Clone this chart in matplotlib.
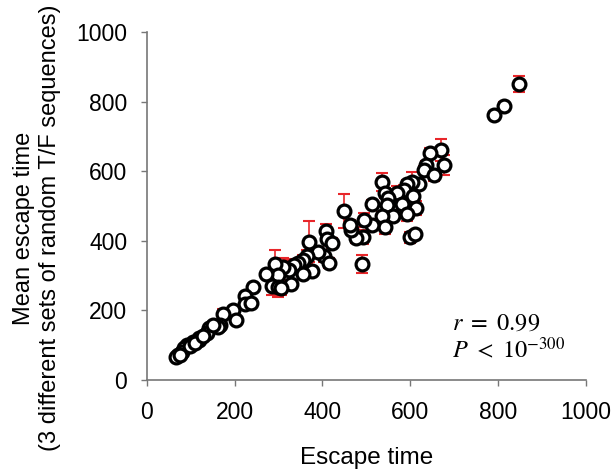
import numpy as np
import matplotlib.pyplot as plt

plt.rcParams['font.family'] = ['Liberation Sans', 'DejaVu Sans']
plt.rcParams['mathtext.fontset'] = 'stix'

# escape time, mean escape time, error (sd over the 3 sets)
esc = [848, 813, 792, 670, 646, 676, 636, 631, 655, 620, 604, 592, 585, 606, 570,
       581, 613, 592, 537, 543, 550, 547, 560, 535, 542, 514, 514, 494, 492, 477,
       465, 462, 449, 490, 408, 410, 422, 404, 415, 370, 390, 364, 355, 345, 336,
       377, 355, 329, 324, 311, 292, 300, 272, 285, 298, 305, 241, 224, 224, 237,
       197, 203, 173, 167, 162, 142, 137, 120, 118, 106, 91, 85, 80, 71, 67,
       76, 99, 110, 129, 150, 600, 612]
mean_esc = [850, 788, 761, 662, 652, 618, 618, 604, 588, 563, 568, 563, 546, 529, 537,
            506, 494, 477, 568, 537, 523, 503, 472, 472, 439, 506, 446, 460, 410, 407,
            431, 446, 486, 333, 427, 405, 393, 355, 336, 398, 367, 355, 345, 336, 331,
            312, 305, 276, 316, 326, 333, 302, 304, 270, 268, 264, 267, 242, 219, 222,
            201, 173, 189, 158, 153, 149, 134, 122, 115, 110, 101, 91, 81, 72, 67,
            72, 97, 105, 125, 158, 410, 420]
err = [23, 10, 8, 32, 15, 28, 12, 12, 15, 12, 30, 12, 15, 15, 22,
       15, 20, 20, 26, 15, 12, 12, 15, 12, 18, 10, 12, 20, 20, 12,
       12, 15, 50, 25, 20, 12, 15, 15, 15, 60, 15, 20, 15, 12, 18,
       12, 15, 12, 30, 25, 40, 28, 10, 25, 30, 20, 10, 8, 8, 10,
       10, 8, 15, 8, 8, 6, 5, 5, 5, 5, 4, 4, 3, 3, 3,
       3, 4, 4, 5, 6, 15, 12]

fig = plt.figure(figsize=(6.14, 4.72), dpi=100)
ax = fig.add_axes([0.239, 0.195, 0.715, 0.737])

ax.errorbar(esc, mean_esc, yerr=err, fmt='none', ecolor='#e8262a',
            elinewidth=1.2, capsize=4, capthick=1.5, zorder=2)
ax.scatter(esc, mean_esc, s=85, facecolor='white', edgecolor='black',
           linewidth=2.3, zorder=3)

ax.set_xlim(0, 1000)
ax.set_ylim(0, 1000)
ax.set_xticks(range(0, 1001, 200))
ax.set_yticks(range(0, 1001, 200))
ax.tick_params(labelsize=16.5, color='#777777', length=4, width=1)
ax.tick_params(axis='x', pad=11)
ax.tick_params(axis='y', pad=10)
for s in ['top', 'right']:
    ax.spines[s].set_visible(False)
for s in ['left', 'bottom']:
    ax.spines[s].set_color('#777777')
    ax.spines[s].set_linewidth(1.2)

ax.set_xlabel('Escape time', fontsize=17.5, labelpad=17)
# y label placed by hand, it sits a bit lower than the axis centre
fig.text(37 / 614, 1 - 228 / 472,
         'Mean escape time\n(3 different sets of random T/F sequences)',
         rotation=90, ha='center', va='center', multialignment='center',
         fontsize=17, linespacing=1.2)

ax.text(0.695, 0.145, r'$r\ =\ 0.99$', transform=ax.transAxes, fontsize=17.5)
ax.text(0.695, 0.065, r'$P\ <\ 10^{-300}$', transform=ax.transAxes, fontsize=17.5)

fig.savefig('out.png', dpi=100)
